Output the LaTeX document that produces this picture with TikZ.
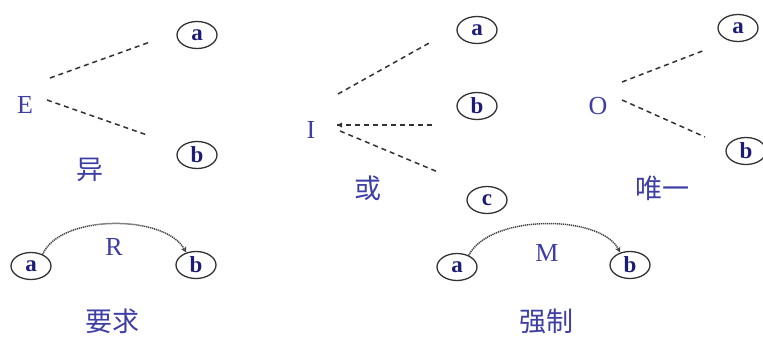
\documentclass[tikz,border=0pt]{standalone}
\usepackage{fontspec}
\setmainfont{Liberation Serif}
\newfontfamily\cjk{Noto Sans CJK SC}
\usepackage{tikz}
\usetikzlibrary{shapes.geometric, arrows}
\definecolor{txtblue}{RGB}{62,62,165}
\definecolor{letblue}{RGB}{28,28,120}
\definecolor{linegray}{RGB}{50,50,50}
\tikzstyle{ent} = [draw=linegray, line width=1.3pt, ellipse, minimum width=40pt, minimum height=27pt, inner sep=0pt, text=letblue, font=\fontsize{23}{23}\selectfont\bfseries]
\tikzstyle{kind} = [text=txtblue, font=\fontsize{26}{26}\selectfont]
\tikzstyle{cname} = [text=txtblue, font=\fontsize{27}{27}\selectfont\cjk]
\tikzstyle{dashline} = [linegray, line width=1.5pt, dash pattern=on 5pt off 4pt]
\tikzstyle{arc} = [black!75, line width=1.5pt, dash pattern=on 1.2pt off 0.8pt, ->, >=stealth]

\begin{document}
\begin{tikzpicture}[x=1pt, y=-1pt]
		\useasboundingbox (0, 0) rectangle (763, 338);
		% E
		\node[kind] (e) at (25, 105) {E};
		\node[ent] (ea) at (197, 35) {a};
		\node[ent] (eb) at (197, 155) {b};
		\node[cname] (ename) at (90, 170) {异};
		\coordinate (e1) at (50, 78);
		\coordinate (e2) at (150, 42);
		\coordinate (e3) at (47, 100);
		\coordinate (e4) at (147, 135);
		\draw[dashline] (e1) -- (e2);
		\draw[dashline] (e3) -- (e4);
		% I
		\node[kind] (i) at (311, 130) {I};
		\node[ent] (ia) at (477, 30) {a};
		\node[ent] (ib) at (477, 106) {b};
		\node[ent] (ic) at (487, 200) {c};
		\node[cname] (iname) at (368, 188) {或};
		\coordinate (i1) at (338, 94);
		\coordinate (i2) at (431, 42);
		\coordinate (i3) at (337, 125);
		\coordinate (i4) at (432, 125);
		\coordinate (i5) at (340, 131);
		\coordinate (i6) at (438, 172);
		\draw[dashline] (i1) -- (i2);
		\draw[dashline] (i3) -- (i4);
		\fill[linegray] (i3) -- ++(5, -2.5) -- ++(0, 5) -- cycle;
		\draw[dashline] (i5) -- (i6);
		% O
		\node[kind] (o) at (598, 106) {O};
		\node[ent] (oa) at (738, 28) {a};
		\node[ent] (ob) at (746, 151) {b};
		\node[cname] (oname) at (662, 188) {唯一};
		\coordinate (o1) at (622, 82);
		\coordinate (o2) at (705, 50);
		\coordinate (o3) at (622, 100);
		\coordinate (o4) at (705, 137);
		\draw[dashline] (o1) -- (o2);
		\draw[dashline] (o3) -- (o4);
		% R
		\node[ent] (ra) at (31, 266) {a};
		\node[ent] (rb) at (196, 265) {b};
		\node[kind] (r) at (114, 247) {R};
		\node[cname] (rname) at (112, 321) {要求};
		\draw[arc] (ra.45) .. controls (60, 214) and (165, 214) .. (rb.128);
		% M
		\node[ent] (ma) at (457, 267) {a};
		\node[ent] (mb) at (630, 265) {b};
		\node[kind] (m) at (547, 253) {M};
		\node[cname] (mname) at (546, 321) {强制};
		\draw[arc] (ma.45) .. controls (490, 214) and (600, 214) .. (mb.128);
		\end{tikzpicture}
\end{document}
